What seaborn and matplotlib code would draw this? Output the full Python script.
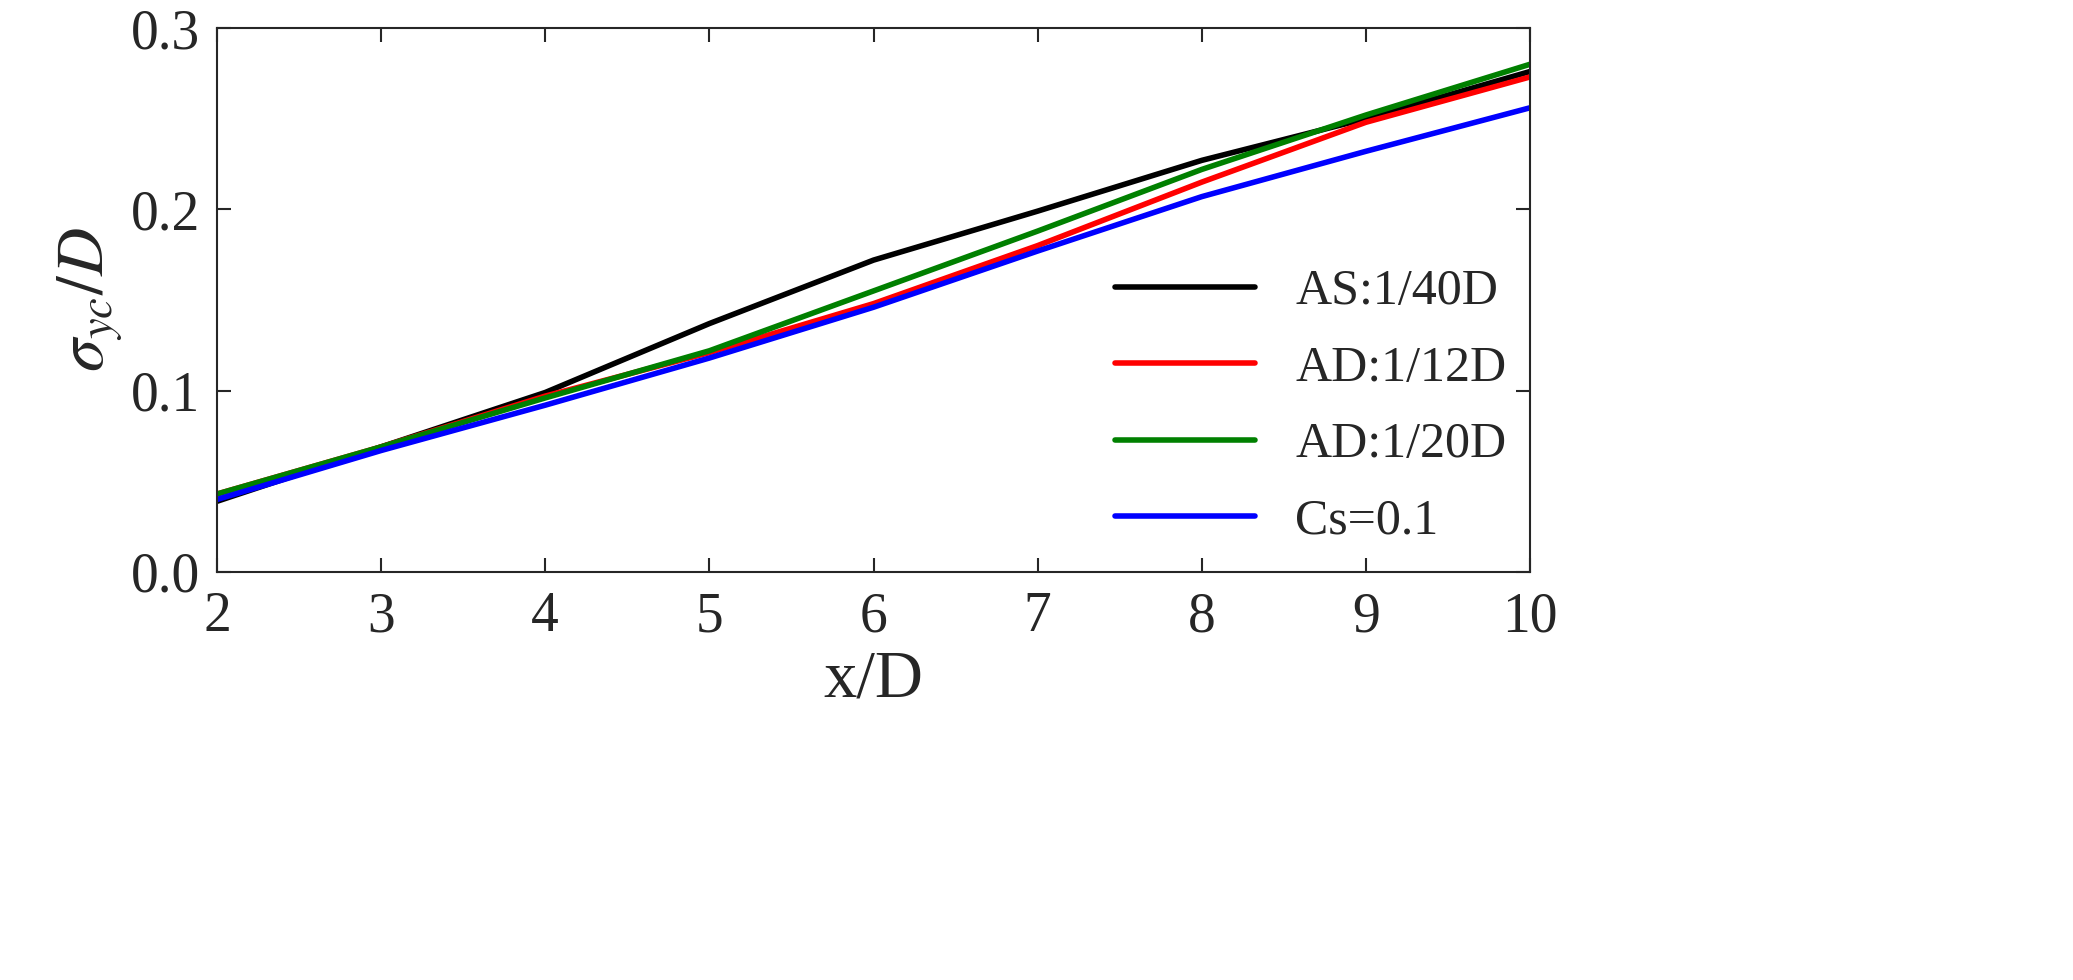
import matplotlib
matplotlib.use('Agg')
import matplotlib.pyplot as plt
import seaborn as sns
import pandas as pd

x = [2, 3, 4, 5, 6, 7, 8, 9, 10]
as_40 = [0.039, 0.069, 0.099, 0.137, 0.172, 0.199, 0.227, 0.250, 0.276]
ad_12 = [0.043, 0.069, 0.097, 0.121, 0.148, 0.180, 0.215, 0.248, 0.273]
ad_20 = [0.043, 0.069, 0.096, 0.122, 0.155, 0.188, 0.222, 0.252, 0.280]
cs_01 = [0.040, 0.067, 0.092, 0.118, 0.146, 0.177, 0.207, 0.232, 0.256]
labels = ['AS:1/40D', 'AD:1/12D', 'AD:1/20D', 'Cs=0.1']
colors = ['black', '#ff0000', '#008000', '#0000ff']

rows = []
for lab, ys in zip(labels, [as_40, ad_12, ad_20, cs_01]):
    for xi, yi in zip(x, ys):
        rows.append({'x': xi, 'y': yi, 'case': lab})
df = pd.DataFrame(rows)

sns.set_style('ticks')
plt.rcParams['font.family'] = ['Liberation Serif', 'DejaVu Serif']
plt.rcParams['mathtext.fontset'] = 'stix'

fig, ax = plt.subplots(figsize=(20.73, 9.8), dpi=100)
sns.lineplot(data=df, x='x', y='y', hue='case', palette=colors, linewidth=4, ax=ax)

ax.set_xlim(2, 10)
ax.set_ylim(0, 0.3)
ax.set_xticks(range(2, 11))
ax.set_yticks([0.0, 0.1, 0.2, 0.3])
ax.set_yticklabels(['0.0', '0.1', '0.2', '0.3'])
ax.tick_params(direction='in', length=10, width=1.5, labelsize=40, top=True, right=True)
ax.tick_params(axis='x', pad=14)
ax.tick_params(axis='y', pad=12)
for s in ax.spines.values():
    s.set_linewidth(1.5)
ax.set_xlabel('x/D', fontsize=48, labelpad=4)
ax.set_ylabel(r'$\sigma_{yc}/D$', fontsize=48)
leg = ax.legend(loc='upper left', bbox_to_anchor=(0.65, 0.64), frameon=False, fontsize=36,
                handlelength=2.8, labelspacing=0.6)
for line in leg.get_lines():
    line.set_linewidth(4)
fig.subplots_adjust(right=1530 / 2073, bottom=1 - 572 / 980, top=1 - 28 / 980, left=217 / 2073)
fig.savefig('out.png', dpi=100)
